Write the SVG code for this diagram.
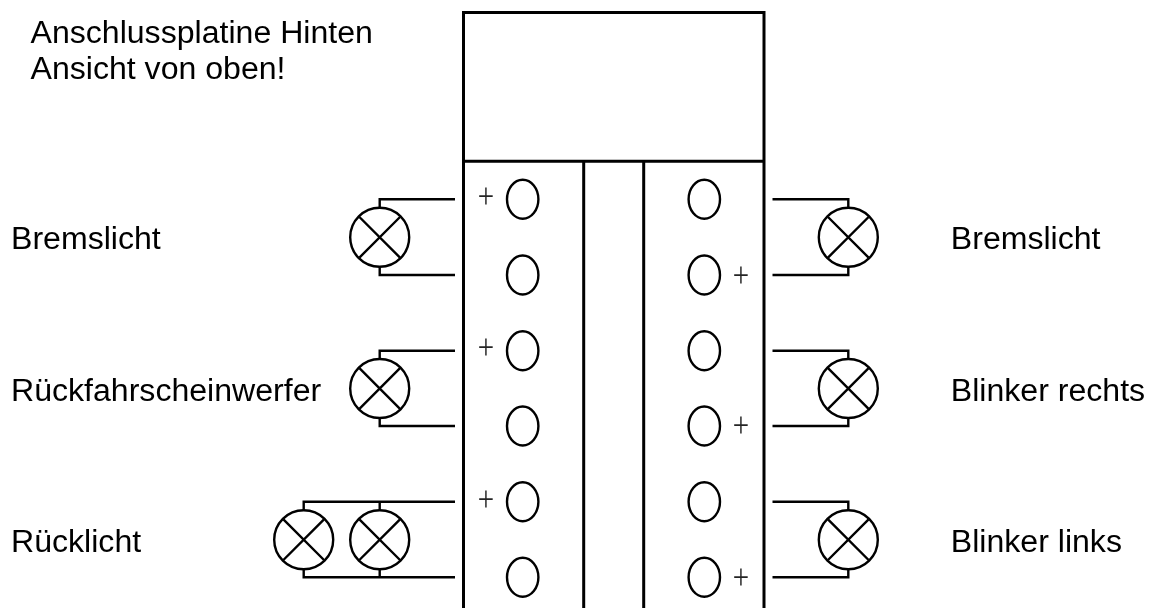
<svg xmlns="http://www.w3.org/2000/svg" width="1153" height="608" viewBox="0 0 1153 608">
<style>
.l{fill:none;stroke:#000;stroke-width:3}
.w{fill:none;stroke:#000;stroke-width:2.4}
.t{font-family:"Liberation Sans",Arial,sans-serif;font-size:32.100px;fill:#000}
.p{font-family:"Liberation Serif","Times New Roman",serif;font-size:29px;fill:#222;text-anchor:middle}
</style>
<defs>
<g id="lamp"><circle r="29.5" class="w"/><path class="w" d="M-20.3-20.3L20.3 20.3M-20.3 20.3L20.3-20.3"/></g>
<ellipse id="pin" rx="15.7" ry="19.5" class="w"/>
</defs>
<g id="board"><path class="l" d="M463.5 608V12.500H764V608M463.500 161.300H764M583.700 161.300V608M643.700 161.300V608"/></g>
<g id="connectors">
<path class="w" d="M455 199.300H379.700V208M379.700 267V275H455"/>
<path class="w" d="M455 350.700H379.700V359M379.700 418V426H455"/>
<path class="w" d="M455 501.700H303.700V510M379.700 501.700V510M303.700 569V577.300H455M379.700 569V577.300"/>
<path class="w" d="M772.500 199.300H848.300V208M848.300 267V275H772.500"/>
<path class="w" d="M772.500 350.700H848.300V359M848.300 418V426H772.500"/>
<path class="w" d="M772.500 501.700H848.300V510M848.300 569V577.300H772.500"/>
</g>
<g id="pins-left"><use href="#pin" x="522.700" y="199.300"/><use href="#pin" x="522.700" y="275"/><use href="#pin" x="522.700" y="350.700"/><use href="#pin" x="522.700" y="426"/><use href="#pin" x="522.700" y="501.700"/><use href="#pin" x="522.700" y="577.300"/></g>
<g id="pins-right"><use href="#pin" x="704.300" y="199.300"/><use href="#pin" x="704.300" y="275"/><use href="#pin" x="704.300" y="350.700"/><use href="#pin" x="704.300" y="426"/><use href="#pin" x="704.300" y="501.700"/><use href="#pin" x="704.300" y="577.300"/></g>
<g id="lamp-l1"><use href="#lamp" x="379.700" y="237.300"/></g>
<g id="lamp-l2"><use href="#lamp" x="379.700" y="388.500"/></g>
<g id="lamp-l3a"><use href="#lamp" x="303.700" y="539.700"/></g>
<g id="lamp-l3b"><use href="#lamp" x="379.700" y="539.700"/></g>
<g id="lamp-r1"><use href="#lamp" x="848.300" y="237.300"/></g>
<g id="lamp-r2"><use href="#lamp" x="848.300" y="388.500"/></g>
<g id="lamp-r3"><use href="#lamp" x="848.300" y="539.700"/></g>
<g id="plus" opacity="0.99">
<text class="p" y="9.800" transform="translate(486 196.700) scale(1 1.200)">+</text>
<text class="p" y="9.800" transform="translate(486 347.300) scale(1 1.200)">+</text>
<text class="p" y="9.800" transform="translate(486 499.300) scale(1 1.200)">+</text>
<text class="p" y="9.800" transform="translate(741 275) scale(1 1.200)">+</text>
<text class="p" y="9.800" transform="translate(741 425.700) scale(1 1.200)">+</text>
<text class="p" y="9.800" transform="translate(741 577.300) scale(1 1.200)">+</text>
</g>
<g id="labels">
<text class="t" x="30.500" y="42.500">Anschlussplatine Hinten</text>
<text class="t" x="30.500" y="79">Ansicht von oben!</text>
<text class="t" x="11" y="249">Bremslicht</text>
<text class="t" x="11" y="400.500">Rückfahrscheinwerfer</text>
<text class="t" x="11" y="551.500">Rücklicht</text>
<text class="t" x="950.800" y="249">Bremslicht</text>
<text class="t" x="950.800" y="400.500">Blinker rechts</text>
<text class="t" x="950.800" y="551.500">Blinker links</text>
</g>
</svg>
